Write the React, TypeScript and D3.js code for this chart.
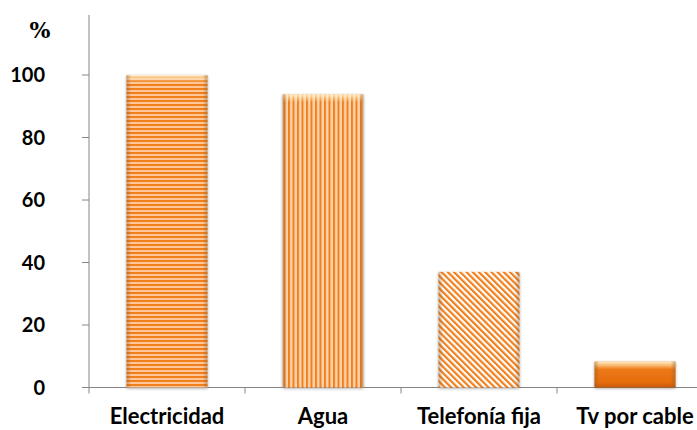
import React from "react";
import * as d3 from "d3";

const categories = ["Electricidad", "Agua", "Telefonía fija", "Tv por cable"];
const values = [100, 93.8, 37, 8.3];
const yTicks = [0, 20, 40, 60, 80, 100];
const patterns = ["hstripe", "vstripe", "dstripe", "solid"];

export default function App() {
  const W = 697, H = 430;
  const x0 = 89, y0 = 387.5;
  const x = d3.scaleBand<string>().domain(categories).range([x0, x0 + 156 * 4]).paddingInner(0).paddingOuter(0);
  const y = d3.scaleLinear().domain([0, 100]).range([y0, 75]);
  const barW = 81;
  const orange = "#F07F1A";
  const font = "Lato, 'Open Sans', sans-serif";
  return (
    <svg width={W} height={H} style={{ position: "absolute", left: 0, top: 0, background: "#fff" }}>
      <defs>
        <pattern id="hstripe" width="4" height="4" patternUnits="userSpaceOnUse">
          <rect width="4" height="4" fill="#FDC79A" />
          <rect width="4" height="2" fill={orange} />
        </pattern>
        <pattern id="vstripe" width="4.5" height="4" patternUnits="userSpaceOnUse">
          <rect width="4.5" height="4" fill="#FDD3AE" />
          <rect width="2" height="4" fill={orange} />
        </pattern>
        <pattern id="dstripe" width="4.4" height="8" patternUnits="userSpaceOnUse" patternTransform="rotate(-45)">
          <rect width="4.4" height="8" fill="#fff" />
          <rect width="2.2" height="8" fill={orange} />
        </pattern>
        <linearGradient id="solidGrad" x1="0" y1="0" x2="0" y2="1">
          <stop offset="0" stopColor="#F9A04C" />
          <stop offset="0.25" stopColor="#EE7A18" />
          <stop offset="0.8" stopColor="#E56D0E" />
          <stop offset="1" stopColor="#C8590A" />
        </linearGradient>
        <linearGradient id="topHi" x1="0" y1="0" x2="0" y2="1">
          <stop offset="0" stopColor="#FFF3D0" stopOpacity="0.9" />
          <stop offset="1" stopColor="#FFE6B0" stopOpacity="0" />
        </linearGradient>
        <linearGradient id="sideShade" x1="0" y1="0" x2="1" y2="0">
          <stop offset="0" stopColor="#8a5a30" stopOpacity="0.45" />
          <stop offset="0.06" stopColor="#8a5a30" stopOpacity="0" />
          <stop offset="0.94" stopColor="#8a5a30" stopOpacity="0" />
          <stop offset="1" stopColor="#8a5a30" stopOpacity="0.45" />
        </linearGradient>
        <filter id="shadow" x="-20%" y="-20%" width="140%" height="140%">
          <feGaussianBlur in="SourceAlpha" stdDeviation="1.5" />
          <feOffset dx="0" dy="1" result="b" />
          <feComponentTransfer><feFuncA type="linear" slope="0.35" /></feComponentTransfer>
          <feMerge><feMergeNode /><feMergeNode in="SourceGraphic" /></feMerge>
        </filter>
      </defs>

      {/* axes */}
      <line x1={x0} x2={x0} y1={15} y2={y0} stroke="#868686" strokeWidth={1} />
      <line x1={x0} x2={W} y1={y0} y2={y0} stroke="#868686" strokeWidth={1} />
      {yTicks.map((t) => (
        <g key={t}>
          <line x1={x0 - 7} x2={x0} y1={y(t)} y2={y(t)} stroke="#868686" />
          <text x={45} y={y(t) + 7} textAnchor="end" fontFamily={font} fontWeight="bold" fontSize={20} fill="#000">{t}</text>
        </g>
      ))}
      {categories.map((c) => (
        <line key={c} x1={x(c)!} x2={x(c)!} y1={y0} y2={y0 + 6} stroke="#868686" />
      ))}
      <text x={40} y={38} textAnchor="middle" fontFamily="'DejaVu Serif', serif" fontWeight="bold" fontSize={22}>%</text>

      {categories.map((c, i) => {
        const cx = x(c)! + x.bandwidth() / 2;
        const bx = cx - barW / 2;
        const by = y(values[i]);
        const bh = y0 - by;
        const fill = patterns[i] === "solid" ? "url(#solidGrad)" : `url(#${patterns[i]})`;
        return (
          <g key={c}>
            <rect x={bx} y={by} width={barW} height={bh} fill={fill} filter="url(#shadow)" />
            {patterns[i] !== "dstripe" && (
              <rect x={bx} y={by} width={barW} height={Math.min(8, bh)} fill="url(#topHi)" />
            )}
            <rect x={bx} y={by} width={barW} height={bh} fill="url(#sideShade)" />
            <text x={cx} y={424} textAnchor="middle" fontFamily={font} fontWeight="bold" fontSize={22} fill="#000">{c}</text>
          </g>
        );
      })}
    </svg>
  );
}
